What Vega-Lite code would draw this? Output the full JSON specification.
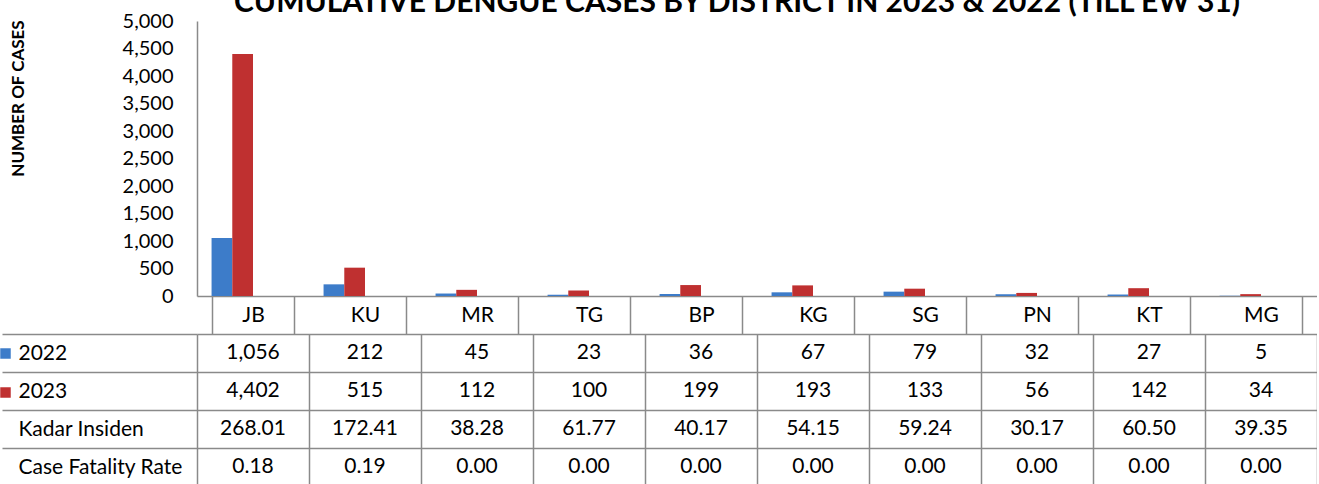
{
  "$schema": "https://vega.github.io/schema/vega-lite/v6.json",
  "padding": {"left": 0, "top": -12, "right": 0, "bottom": 0},
  "spacing": 38,
  "bounds": "flush",
  "config": {"view": {"stroke": null}, "font": "Lato"},
  "datasets": {
    "bars": [
      {"district": "JB", "year": "2022", "cases": 1056}, {"district": "JB", "year": "2023", "cases": 4402},
      {"district": "KU", "year": "2022", "cases": 212}, {"district": "KU", "year": "2023", "cases": 515},
      {"district": "MR", "year": "2022", "cases": 45}, {"district": "MR", "year": "2023", "cases": 112},
      {"district": "TG", "year": "2022", "cases": 23}, {"district": "TG", "year": "2023", "cases": 100},
      {"district": "BP", "year": "2022", "cases": 36}, {"district": "BP", "year": "2023", "cases": 199},
      {"district": "KG", "year": "2022", "cases": 67}, {"district": "KG", "year": "2023", "cases": 193},
      {"district": "SG", "year": "2022", "cases": 79}, {"district": "SG", "year": "2023", "cases": 133},
      {"district": "PN", "year": "2022", "cases": 32}, {"district": "PN", "year": "2023", "cases": 56},
      {"district": "KT", "year": "2022", "cases": 27}, {"district": "KT", "year": "2023", "cases": 142},
      {"district": "MG", "year": "2022", "cases": 5}, {"district": "MG", "year": "2023", "cases": 34}
    ],
    "table": [
      {"district": "JB", "row": "2022", "label": "1,056"}, {"district": "JB", "row": "2023", "label": "4,402"}, {"district": "JB", "row": "Kadar Insiden", "label": "268.01"}, {"district": "JB", "row": "Case Fatality Rate", "label": "0.18"},
      {"district": "KU", "row": "2022", "label": "212"}, {"district": "KU", "row": "2023", "label": "515"}, {"district": "KU", "row": "Kadar Insiden", "label": "172.41"}, {"district": "KU", "row": "Case Fatality Rate", "label": "0.19"},
      {"district": "MR", "row": "2022", "label": "45"}, {"district": "MR", "row": "2023", "label": "112"}, {"district": "MR", "row": "Kadar Insiden", "label": "38.28"}, {"district": "MR", "row": "Case Fatality Rate", "label": "0.00"},
      {"district": "TG", "row": "2022", "label": "23"}, {"district": "TG", "row": "2023", "label": "100"}, {"district": "TG", "row": "Kadar Insiden", "label": "61.77"}, {"district": "TG", "row": "Case Fatality Rate", "label": "0.00"},
      {"district": "BP", "row": "2022", "label": "36"}, {"district": "BP", "row": "2023", "label": "199"}, {"district": "BP", "row": "Kadar Insiden", "label": "40.17"}, {"district": "BP", "row": "Case Fatality Rate", "label": "0.00"},
      {"district": "KG", "row": "2022", "label": "67"}, {"district": "KG", "row": "2023", "label": "193"}, {"district": "KG", "row": "Kadar Insiden", "label": "54.15"}, {"district": "KG", "row": "Case Fatality Rate", "label": "0.00"},
      {"district": "SG", "row": "2022", "label": "79"}, {"district": "SG", "row": "2023", "label": "133"}, {"district": "SG", "row": "Kadar Insiden", "label": "59.24"}, {"district": "SG", "row": "Case Fatality Rate", "label": "0.00"},
      {"district": "PN", "row": "2022", "label": "32"}, {"district": "PN", "row": "2023", "label": "56"}, {"district": "PN", "row": "Kadar Insiden", "label": "30.17"}, {"district": "PN", "row": "Case Fatality Rate", "label": "0.00"},
      {"district": "KT", "row": "2022", "label": "27"}, {"district": "KT", "row": "2023", "label": "142"}, {"district": "KT", "row": "Kadar Insiden", "label": "60.50"}, {"district": "KT", "row": "Case Fatality Rate", "label": "0.00"},
      {"district": "MG", "row": "2022", "label": "5"}, {"district": "MG", "row": "2023", "label": "34"}, {"district": "MG", "row": "Kadar Insiden", "label": "39.35"}, {"district": "MG", "row": "Case Fatality Rate", "label": "0.00"}
    ]
  },
  "vconcat": [
    {
      "width": 1120,
      "height": 275,
      "title": {"text": "CUMULATIVE DENGUE CASES BY DISTRICT IN 2023 & 2022 (TILL EW 31)", "fontSize": 30, "fontWeight": "bold", "color": "#000000", "offset": -7, "dx": -20},
      "data": {"name": "bars"},
      "mark": {"type": "bar"},
      "encoding": {
        "x": {"field": "district", "type": "nominal", "sort": ["JB", "KU", "MR", "TG", "BP", "KG", "SG", "PN", "KT", "MG"],
          "scale": {"paddingInner": 0.26, "paddingOuter": 0.13},
          "axis": {"title": null, "labelAngle": 0, "labelFontSize": 21, "labelColor": "#000000", "labelPadding": -30, "tickBand": "extent", "tickSize": 38, "tickColor": "#8a8a8a", "tickWidth": 1.5, "domainColor": "#8a8a8a", "domainWidth": 1.5}},
        "xOffset": {"field": "year", "type": "nominal", "scale": {"domain": ["2022", "2023", "s3", "s4"]}},
        "y": {"field": "cases", "type": "quantitative", "scale": {"domain": [0, 5000], "nice": false},
          "axis": {"values": [0, 500, 1000, 1500, 2000, 2500, 3000, 3500, 4000, 4500, 5000], "format": ",.0f", "grid": false, "ticks": false, "labelPadding": 24, "labelFontSize": 20, "labelColor": "#000000", "domainColor": "#8a8a8a", "domainWidth": 1.5,
            "title": "NUMBER OF CASES", "titleFontSize": 17, "titleFontWeight": "bold", "titleColor": "#000000", "titleX": -179, "titleY": 77, "titleBaseline": "middle"}},
        "color": {"field": "year", "type": "nominal", "scale": {"domain": ["2022", "2023"], "range": ["#3d7cc9", "#bf3030"]},
          "legend": {"title": null, "orient": "none", "legendX": -197, "legendY": 327, "symbolType": "square", "symbolSize": 110, "symbolStrokeWidth": 0, "labelExpr": "''", "labelFontSize": 1, "rowPadding": 28, "padding": 0, "direction": "vertical"}}
      }
    },
    {
      "width": 1120,
      "height": 152,
      "data": {"name": "table"},
      "mark": {"type": "text", "fontSize": 21, "color": "#000000", "baseline": "middle", "align": "center"},
      "encoding": {
        "x": {"field": "district", "type": "nominal", "sort": ["JB", "KU", "MR", "TG", "BP", "KG", "SG", "PN", "KT", "MG"],
          "scale": {"paddingInner": 0, "paddingOuter": 0},
          "axis": {"title": null, "labels": false, "ticks": false, "domain": false, "grid": true, "tickBand": "extent", "gridColor": "#8a8a8a", "gridWidth": 1.5, "gridOpacity": 1}},
        "y": {"field": "row", "type": "nominal", "sort": ["2022", "2023", "Kadar Insiden", "Case Fatality Rate"],
          "scale": {"paddingInner": 0, "paddingOuter": 0},
          "axis": {"title": null, "domain": false, "grid": true, "tickBand": "extent", "gridColor": "#8a8a8a", "gridWidth": 1.5, "gridOpacity": 1, "tickSize": 195, "tickColor": "#8a8a8a", "tickWidth": 1.5, "labelAlign": "left", "labelPadding": -16, "labelFontSize": 21, "labelColor": "#000000", "labelLimit": 400}},
        "text": {"field": "label", "type": "nominal"}
      }
    }
  ]
}
